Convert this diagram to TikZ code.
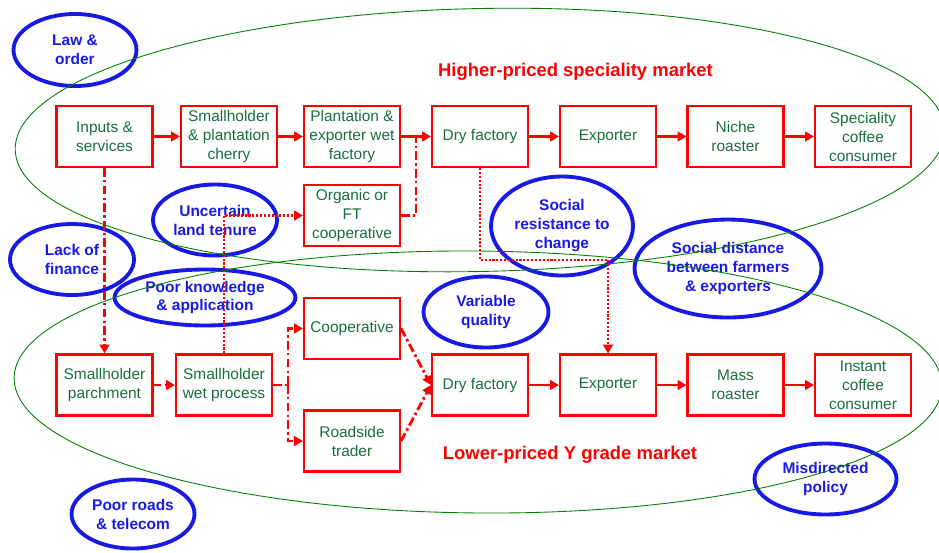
\documentclass[tikz,border=0pt]{standalone}
\usepackage{fontspec}
\setmainfont{Liberation Sans}
\usetikzlibrary{shapes.geometric,arrows.meta}
\definecolor{boxred}{RGB}{255,0,0}
\definecolor{labelgreen}{RGB}{25,110,60}
\definecolor{issueblue}{RGB}{25,25,230}
\definecolor{ringgreen}{RGB}{0,128,0}
\begin{document}
\begin{tikzpicture}
[x=0.02cm,y=-0.02cm,
stagebox/.style={draw=boxred,line width=1.2pt,minimum width=1.92cm,minimum height=1.22cm,inner sep=0pt,align=center,text=labelgreen,font=\fontsize{8.8}{10.8}\selectfont},
issue/.style={ellipse,draw=issueblue,line width=2.2pt,inner sep=0pt,align=center,text=issueblue,font=\bfseries\fontsize{8.8}{10.8}\selectfont},
mainflow/.style={draw=boxred,line width=1.6pt,-{Triangle[length=5pt,width=5.5pt]}},
altflow/.style={mainflow,dash pattern=on 5pt off 1.8pt on 1.4pt off 1.8pt},
dashflow/.style={mainflow,dash pattern=on 4pt off 2.5pt},
weakflow/.style={mainflow,line width=1.3pt,dash pattern=on 1.2pt off 1pt},
ring/.style={draw=ringgreen,line width=0.5pt},
markettitle/.style={text=boxred,font=\bfseries\fontsize{10.5}{12}\selectfont}]
\useasboundingbox (0,0) rectangle (939,552);

% higher-priced chain
\node (inputs) at (104.5,136.5) [stagebox] {Inputs \&\\services};
\node (cherry) at (229,136.5) [stagebox] {Smallholder\\\& plantation\\cherry};
\node (wetfactory) at (352,136.5) [stagebox] {Plantation \&\\exporter wet\\factory};
\node (dryhigh) at (480,136.5) [stagebox] {Dry factory};
\node (exphigh) at (608,136.5) [stagebox] {Exporter};
\node (niche) at (735.5,136.5) [stagebox] {Niche\\roaster};
\node (speciality) at (863,136.5) [stagebox] {Speciality\\coffee\\consumer};
\node (organic) at (352,215.5) [stagebox] {Organic or\\FT\\cooperative};

% lower-priced chain
\node (parchment) at (104.5,385) [stagebox] {Smallholder\\parchment};
\node (wetprocess) at (224,385) [stagebox] {Smallholder\\wet process};
\node (coop) at (352,328.5) [stagebox] {Cooperative};
\node (roadside) at (352,441) [stagebox] {Roadside\\trader};
\node (drylow) at (480,385) [stagebox] {Dry factory};
\node (explow) at (608,385) [stagebox] {Exporter};
\node (mass) at (735.5,385) [stagebox] {Mass\\roaster};
\node (instant) at (863,385) [stagebox] {Instant\\coffee\\consumer};

\node (hightitle) at (575.5,72) [markettitle] {Higher-priced speciality market};
\node (lowtitle) at (570,455) [markettitle] {Lower-priced Y grade market};

% constraints
\node (law) at (75,50) [issue,minimum width=2.46cm,minimum height=1.44cm] {Law \&\\order};
\node (tenure) at (215,220) [issue,minimum width=2.48cm,minimum height=1.42cm] {Uncertain\\land tenure};
\node (finance) at (72,259.5) [issue,minimum width=2.48cm,minimum height=1.42cm] {Lack of\\finance};
\node (knowledge) at (205,297.5) [issue,minimum width=3.62cm,minimum height=1.12cm] {Poor knowledge\\\& application};
\node (roads) at (133,514) [issue,minimum width=2.46cm,minimum height=1.38cm] {Poor roads\\\& telecom};
\node (resistance) at (562,226) [issue,minimum width=2.84cm,minimum height=1.98cm] {Social\\resistance to\\change};
\node (distance) at (728,268.5) [issue,minimum width=3.74cm,minimum height=1.96cm] {Social distance\\between farmers\\\& exporters};
\node (quality) at (486,312) [issue,minimum width=2.5cm,minimum height=1.42cm] {Variable\\quality};
\node (policy) at (825.5,479) [issue,minimum width=2.84cm,minimum height=1.42cm] {Misdirected\\policy};

\coordinate (join) at (416,136.5);
\coordinate (fork) at (288,385);
\coordinate (bend) at (608,260);

\draw[mainflow] (inputs) -- (cherry);
\draw[mainflow] (cherry) -- (wetfactory);
\draw[mainflow] (wetfactory) -- (dryhigh);
\draw[mainflow] (dryhigh) -- (exphigh);
\draw[mainflow] (exphigh) -- (niche);
\draw[mainflow] (niche) -- (speciality);
\draw[mainflow] (drylow) -- (explow);
\draw[mainflow] (explow) -- (mass);
\draw[mainflow] (mass) -- (instant);

\draw[altflow] (inputs) -- (parchment);
\draw[dashflow] (parchment) -- (wetprocess);
\draw[altflow,-] (wetprocess) -- (fork);
\draw[altflow] (fork) |- (coop);
\draw[altflow] (fork) |- (roadside);
\draw[altflow] (coop.east) -- (drylow.west);
\draw[altflow] (roadside.east) -- (drylow.west);
\draw[altflow,-] (organic) -| (join);

\draw[weakflow] (wetprocess.north) |- (organic.west);
\draw[weakflow] (dryhigh.south) |- (bend) -- (explow.north);

% market rings
\draw[ring,rotate around={1.2:(480,140)}] (480,140) ellipse [x radius=9.3cm,y radius=2.63cm];
\draw[ring,rotate around={-0.5:(478,382)}] (478,382) ellipse [x radius=9.28cm,y radius=2.62cm];

\end{tikzpicture}
\end{document}
